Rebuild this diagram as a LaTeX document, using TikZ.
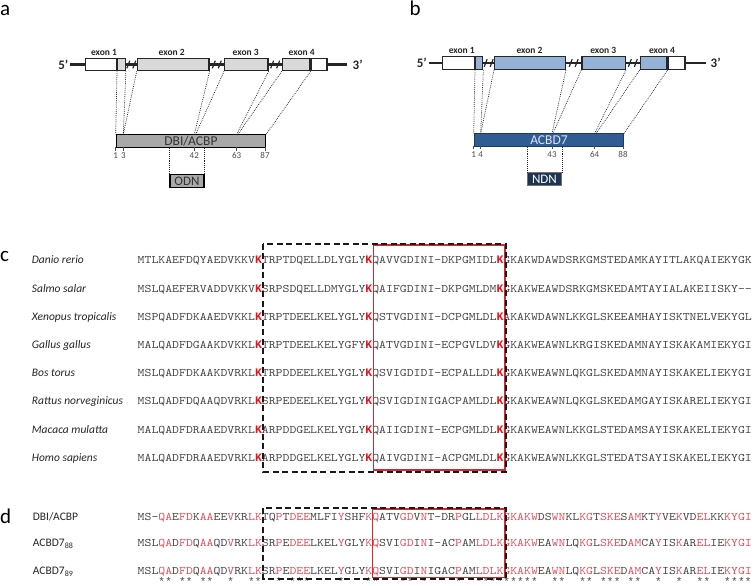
\documentclass[tikz,border=0pt]{standalone}
\usepackage{fontspec}
\setmainfont{Carlito}
\newfontfamily\seqfont[FakeStretch=1.1429]{lmmono10-regular.otf}
\newfontfamily\lysfont{Liberation Mono}
\usetikzlibrary{positioning,calc}

\definecolor{exongray}{HTML}{D9D9D9}
\definecolor{bargray}{HTML}{A8A8A8}
\definecolor{exonblue}{HTML}{95B3D7}
\definecolor{barblue}{HTML}{2F5D91}
\definecolor{barline}{HTML}{1E3A60}
\definecolor{ndnblue}{HTML}{1C3453}
\definecolor{seqgray}{HTML}{464646}
\definecolor{lysred}{HTML}{E8141C}
\definecolor{idred}{HTML}{E2505A}
\definecolor{boxred}{HTML}{D42A2F}

\newcommand\lysK{\textcolor{lysred}{\lysfont\bfseries K}}
\newcommand\idres[1]{\textcolor{idred}{#1}}

\tikzset{genebrk/.pic={\draw[line width=1.2pt, black!85] (-4.5,3.8) -- (-1.5,-3.8) (1.5,3.8) -- (4.5,-3.8);}}

\begin{document}
\begin{tikzpicture}[x=1pt, y=-1pt,
  exonbox/.style={draw=black!85, line width=1.3pt, inner sep=0pt, minimum height=12.4pt},
  geneline/.style={line width=2.2pt, black!85},
  exonlabel/.style={font=\bfseries\fontsize{9.5}{10}\selectfont, text=black!85, inner sep=0pt},
  endlabel/.style={font=\bfseries\fontsize{13}{14}\selectfont, text=black!85, inner sep=0pt},
  protbar/.style={draw, line width=1.2pt, inner sep=0pt, minimum height=12.6pt, font=\fontsize{13.5}{14}\selectfont},
  mapline/.style={line width=0.75pt, black!85, dash pattern=on 0.8pt off 1.1pt},
  postick/.style={line width=0.6pt, black!70},
  posnum/.style={font=\fontsize{9}{10}\selectfont, text=black!70, inner sep=0pt},
  pepbox/.style={draw, line width=1.2pt, inner sep=0pt, minimum width=34pt, minimum height=13pt, font=\fontsize{13}{14}\selectfont, anchor=north west},
  panel/.style={font=\fontsize{21}{22}\selectfont, inner sep=0pt, anchor=base west},
  species/.style={font=\itshape\fontsize{11.5}{12}\selectfont, text=black!85, inner sep=0pt, anchor=base west},
  seqname/.style={font=\fontsize{11.5}{12}\selectfont, text=black!85, inner sep=0pt, anchor=base west},
  seq/.style={font=\seqfont\fontsize{11.5}{12}\selectfont, text=seqgray, inner sep=0pt, anchor=base west},
  consmark/.style={font=\lysfont\fontsize{11}{12}\selectfont, text=seqgray, inner sep=0pt, anchor=base},
  dashbox/.style={line width=2pt, black!90, dash pattern=on 6pt off 3.5pt},
  redbox/.style={line width=1.8pt, boxred}]
\useasboundingbox (0,0) rectangle (756,586);

% panel a: DBI/ACBP gene
\node[panel] (pa) at (0,15.5) {a};
\node[exonbox, fill=white, minimum width=30.7pt, anchor=west] (a1u) at (85,64.5) {};
\node[exonbox, fill=exongray, minimum width=7.6pt, right=0pt of a1u] (a1c) {};
\node[exonbox, fill=exongray, minimum width=71.6pt, anchor=west] (a2) at (136.7,64.5) {};
\node[exonbox, fill=exongray, minimum width=43.3pt, anchor=west] (a3) at (224,64.5) {};
\node[exonbox, fill=exongray, minimum width=27.6pt, anchor=west] (a4c) at (281.7,64.5) {};
\node[exonbox, fill=white, minimum width=15.7pt, right=0pt of a4c] (a4u) {};
\node[endlabel, anchor=east] (a5p) at (68.5,64.5) {5’};
\node[endlabel, anchor=west] (a3p) at (352.5,64.5) {3’};
\node[exonlabel] (ae1) at (104,52) {exon 1};
\node[exonlabel] (ae2) at (171.7,52) {exon 2};
\node[exonlabel] (ae3) at (245.7,52) {exon 3};
\node[exonlabel] (ae4) at (301.7,52) {exon 4};
\draw[geneline] ([xshift=1.5pt]a5p.east) -- (a1u.west);
\draw[geneline] (a1c.east) -- (a2.west);
\draw[geneline] (a2.east) -- (a3.west);
\draw[geneline] (a3.east) -- (a4c.west);
\draw[geneline] (a4u.east) -- ([xshift=-5.5pt]a3p.west);
\pic at ($(a1c.east)!0.5!(a2.west)$) {genebrk};
\pic at ($(a2.east)!0.5!(a3.west)$) {genebrk};
\pic at ($(a3.east)!0.5!(a4c.west)$) {genebrk};

\node[protbar, fill=bargray, text=black!80, minimum width=149.3pt, anchor=north west] (abar) at (115.7,134.3) {DBI/ACBP};
\coordinate (aq3) at (123.3,134.3);
\coordinate (aq42) at (194.3,134.3);
\coordinate (aq42b) at (195.7,134.3);
\coordinate (aq63) at (236.7,134.3);
\coordinate (aq63b) at (238,134.3);
\draw[mapline] (a1c.south west) -- (abar.north west);
\draw[mapline] (a1c.south east) -- (aq3);
\draw[mapline] (a2.south west) -- (aq3);
\draw[mapline] (a2.south east) -- (aq42);
\draw[mapline] (a3.south west) -- (aq42b);
\draw[mapline] (a3.south east) -- (aq63);
\draw[mapline] (a4c.south west) -- (aq63b);
\draw[mapline] (a4c.south east) -- (abar.north east);
\foreach \p/\x in {1/115.7, 3/123.3, 42/194.3, 63/236.7, 87/265} {
  \draw[postick] (\x,147.3) -- (\x,150.5);
  \node[posnum] (an\p) at (\x,155.5) {\p};
}
\node[pepbox, fill=bargray, text=black!80] (odn) at (169.3,174) {ODN};
\draw[mapline] (odn.north west |- abar.south) -- (odn.north west);
\draw[mapline] (odn.north east |- abar.south) -- (odn.north east);

% panel b: ACBD7 gene
\node[panel] (pb) at (409.5,15.5) {b};
\node[exonbox, fill=white, minimum width=31.7pt, minimum height=12.6pt, anchor=west] (b1u) at (442,63) {};
\node[exonbox, fill=exonblue, minimum width=7pt, minimum height=12.6pt, right=0pt of b1u] (b1c) {};
\node[exonbox, fill=exonblue, minimum width=70.7pt, minimum height=12.6pt, anchor=west] (b2) at (494,63) {};
\node[exonbox, fill=exonblue, minimum width=43.4pt, minimum height=12.6pt, anchor=west] (b3) at (581.3,63) {};
\node[exonbox, fill=exonblue, minimum width=26.6pt, minimum height=12.6pt, anchor=west] (b4c) at (639.7,63) {};
\node[exonbox, fill=white, minimum width=16.7pt, minimum height=12.6pt, right=0pt of b4c] (b4u) {};
\node[endlabel, anchor=east] (b5p) at (427,63) {5’};
\node[endlabel, anchor=west] (b3p) at (710.5,63) {3’};
\node[exonlabel] (be1) at (461.8,50.7) {exon 1};
\node[exonlabel] (be2) at (529.5,50.7) {exon 2};
\node[exonlabel] (be3) at (603.3,50.7) {exon 3};
\node[exonlabel] (be4) at (662,50.7) {exon 4};
\draw[geneline] ([xshift=1.5pt]b5p.east) -- (b1u.west);
\draw[geneline] (b1c.east) -- (b2.west);
\draw[geneline] (b2.east) -- (b3.west);
\draw[geneline] (b3.east) -- (b4c.west);
\draw[geneline] (b4u.east) -- ([xshift=-4.5pt]b3p.west);
\pic at ($(b1c.east)!0.5!(b2.west)$) {genebrk};
\pic at ($(b2.east)!0.5!(b3.west)$) {genebrk};
\pic at ($(b3.east)!0.5!(b4c.west)$) {genebrk};

\node[protbar, draw=barline, fill=barblue, text=white!88!blue, minimum width=149.3pt, minimum height=12.4pt, anchor=north west] (bbar) at (473.7,133.3) {ACBD7};
\coordinate (bq4) at (480.7,133.3);
\coordinate (bq43) at (552,133.3);
\coordinate (bq43b) at (553,133.3);
\coordinate (bq64) at (594.7,133.3);
\coordinate (bq64b) at (596.3,133.3);
\draw[mapline] (b1c.south west) -- (bbar.north west);
\draw[mapline] (b1c.south east) -- (bq4);
\draw[mapline] (b2.south west) -- (bq4);
\draw[mapline] (b2.south east) -- (bq43);
\draw[mapline] (b3.south west) -- (bq43b);
\draw[mapline] (b3.south east) -- (bq64);
\draw[mapline] (b4c.south west) -- (bq64b);
\draw[mapline] (b4c.south east) -- (bbar.north east);
\foreach \p/\x in {1/473.7, 4/480.7, 43/552, 64/594.7, 88/623} {
  \draw[postick] (\x,145.7) -- (\x,149);
  \node[posnum] (bn\p) at (\x,154.3) {\p};
}
\node[pepbox, draw=black!55, fill=ndnblue, text=white, minimum width=33.7pt, minimum height=13.3pt] (ndn) at (527,171.7) {NDN};
\draw[mapline] (ndn.north west |- bbar.south) -- (ndn.north west);
\draw[mapline] (ndn.north east |- bbar.south) -- (ndn.north east);

% panel c: alignment across species
\node[panel] (pc) at (0,261.7) {c};
\node[species] (sp1) at (31.7,263.8) {Danio rerio};
\node[species] (sp2) at (31.7,292) {Salmo salar};
\node[species] (sp3) at (31.7,320.2) {Xenopus tropicalis};
\node[species] (sp4) at (31.7,348.4) {Gallus gallus};
\node[species] (sp5) at (31.7,376.6) {Bos torus};
\node[species] (sp6) at (31.7,404.8) {Rattus norveginicus};
\node[species] (sp7) at (31.7,433) {Macaca mulatta};
\node[species] (sp8) at (31.7,461.2) {Homo sapiens};
\node[seq] (sq1) at (137.5,263.8) {MTLKAEFDQYAEDVKKV\lysK TRPTDQELLDLYGLY\lysK QAVVGDINI-DKPGMIDL\lysK GKAKWDAWDSRKGMSTEDAMKAYITLAKQAIEKYGK};
\node[seq] (sq2) at (137.5,292) {MSLQAEFERVADDVKKV\lysK SRPSDQELLDMYGLY\lysK QAIFGDINI-DKPGMLDM\lysK GKAKWEAWDSRKGMSKEDAMTAYIALAKEIISKY\mbox{-}\mbox{-}};
\node[seq] (sq3) at (137.5,320.2) {MSPQADFDKAAEDVKKL\lysK TRPTDEELKELYGLY\lysK QSTVGDINI-DCPGMLDL\lysK AKAKWDAWNLKKGLSKEEAMHAYISKTNELVEKYGL};
\node[seq] (sq4) at (137.5,348.4) {MALQADFDGAAKDVKKL\lysK TRPTDEELKELYGFY\lysK QATVGDINI-ECPGVLDV\lysK GKAKWEAWNLKRGISKEDAMNAYISKAKAMIEKYGI};
\node[seq] (sq5) at (137.5,376.6) {MSLQADFDKAAKDVRKL\lysK TRPDDEELKELYGLY\lysK QSVIGDIDI-ECPALLDL\lysK GKAKWEAWNLQKGLSKEDAMNAYISKAKELIEKYGI};
\node[seq] (sq6) at (137.5,404.8) {MSLQADFDQAAQDVRKL\lysK SRPEDEELKELYGLY\lysK QSVIGDINIGACPAMLDL\lysK GKAKWEAWNLQKGLSKEDAMGAYISKARELIEKYGI};
\node[seq] (sq7) at (137.5,433) {MALQADFDRAAEDVRKL\lysK ARPDDGELKELYGLY\lysK QAIIGDINI-ECPGMLDL\lysK GKAKWEAWNLKKGLSTEDAMSAYISKAKELIEKYGI};
\node[seq] (sq8) at (137.5,461.2) {MALQADFDRAAEDVRKL\lysK ARPDDGELKELYGLY\lysK QAIVGDINI-ACPGMLDL\lysK GKAKWEAWNLKKGLSTEDATSAYISKAKELIEKYGI};
\draw[redbox] (373.5,245) rectangle (505,470);
\draw[dashbox] (263,243.5) rectangle (505.5,471.5);

% panel d: DBI/ACBP against ACBD7
\node[panel] (pd) at (0,523) {d};
\node[seqname] (nm1) at (32.7,520.5) {DBI/ACBP};
\node[seqname] (nm2) at (32.7,546.8) {ACBD7\textsubscript{88}};
\node[seqname] (nm3) at (32.7,574.6) {ACBD7\textsubscript{89}};
\node[seq] (dq1) at (137.5,520.5) {MS-\idres{QA}E\idres{FD}K\idres{AA}EE\idres{V}KR\idres{LK}TQ\idres{P}T\idres{DEE}MLFI\idres{Y}SHF\idres{KQ}ATV\idres{GD}V\idres{N}T-DR\idres{P}GL\idres{LDLKGKAKW}DS\idres{WN}KL\idres{KG}T\idres{SKE}S\idres{AM}KT\idres{Y}VE\idres{K}VD\idres{EL}KK\idres{KYGI}};
\node[seq] (dq2) at (137.5,546.8) {MSL\idres{QA}D\idres{FD}Q\idres{AA}QD\idres{V}RK\idres{LK}SR\idres{P}E\idres{DEE}LKEL\idres{Y}GLY\idres{KQ}SVI\idres{GD}I\idres{N}I-AC\idres{P}AM\idres{LDLKGKAKW}EA\idres{WN}LQ\idres{KG}L\idres{SKE}D\idres{AM}CA\idres{Y}IS\idres{K}AR\idres{EL}IE\idres{KYGI}};
\node[seq] (dq3) at (137.5,574.6) {MSL\idres{QA}D\idres{FD}Q\idres{AA}QD\idres{V}RK\idres{LK}SR\idres{P}E\idres{DEE}LKEL\idres{Y}GLY\idres{KQ}SVI\idres{GD}I\idres{N}IGAC\idres{P}AM\idres{LDLKGKAKW}EA\idres{WN}LQ\idres{KG}L\idres{SKE}D\idres{AM}CA\idres{Y}IS\idres{K}AR\idres{EL}IE\idres{KYGI}};
\foreach \c in {4,5,7,8,10,11,14,17,18,21,23,24,25,30,34,35,39,40,42,47,50,51,52,53,54,55,56,57,58,61,62,65,66,68,69,70,72,73,76,79,82,83,86,87,88,89}
  \node[consmark] (cm\c) at ({137.5+(\c-0.5)*6.901},585) {*};
\draw[redbox] (372.5,509) rectangle (505,577.5);
\draw[dashbox] (263,507.7) rectangle (505.5,578.5);
\end{tikzpicture}
\end{document}
